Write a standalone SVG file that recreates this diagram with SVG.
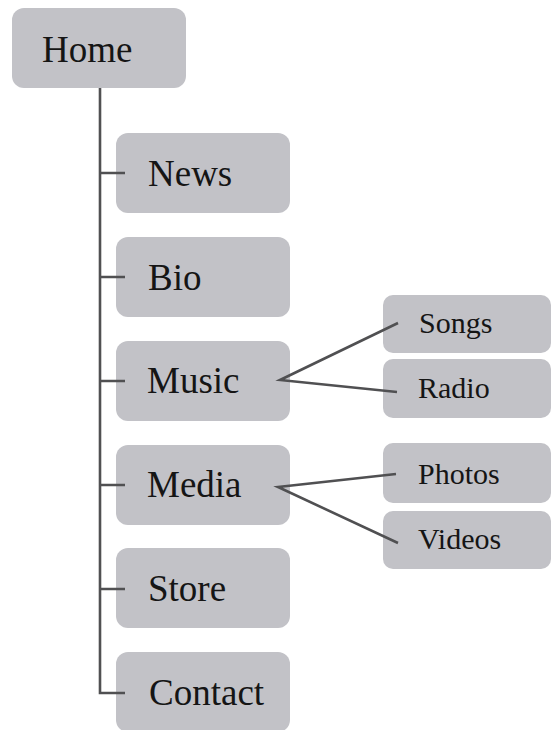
<svg xmlns="http://www.w3.org/2000/svg" width="552" height="730" viewBox="0 0 552 730">
<style>
.box{fill:#c2c2c7}
.t{font-family:'Liberation Serif',serif;fill:#151515}
.m{font-size:37px}
.s{font-size:30px}
.c{fill:none;stroke:#505052;stroke-width:2.6}
</style>
<rect width="552" height="730" fill="#ffffff"/>
<g id="home"><rect class="box" x="12" y="8" width="174" height="80" rx="12"/><text class="t m" x="42" y="62">Home</text></g>
<g id="news"><rect class="box" x="116" y="133" width="174" height="80" rx="12"/><text class="t m" x="148" y="186">News</text></g>
<g id="bio"><rect class="box" x="116" y="237" width="174" height="80" rx="12"/><text class="t m" x="148" y="290">Bio</text></g>
<g id="music"><rect class="box" x="116" y="341" width="174" height="80" rx="12"/><text class="t m" x="147" y="393">Music</text></g>
<g id="media"><rect class="box" x="116" y="445" width="174" height="80" rx="12"/><text class="t m" x="147" y="497">Media</text></g>
<g id="store"><rect class="box" x="116" y="548" width="174" height="80" rx="12"/><text class="t m" x="148" y="601">Store</text></g>
<g id="contact"><rect class="box" x="116" y="652" width="174" height="80" rx="12"/><text class="t m" x="149" y="705">Contact</text></g>
<g id="songs"><rect class="box" x="383" y="295" width="168" height="58" rx="10"/><text class="t s" x="419" y="333">Songs</text></g>
<g id="radio"><rect class="box" x="383" y="359" width="168" height="59" rx="10"/><text class="t s" x="418" y="398">Radio</text></g>
<g id="photos"><rect class="box" x="383" y="443" width="168" height="60" rx="10"/><text class="t s" x="418" y="484">Photos</text></g>
<g id="videos"><rect class="box" x="383" y="511" width="168" height="58" rx="10"/><text class="t s" x="418" y="549">Videos</text></g>
<g id="connectors">
<path class="c" d="M100 88 V693 H125"/>
<path class="c" d="M100 173 H125 M100 277 H125 M100 381 H125 M100 485 H125 M100 589 H125"/>
<path class="c" d="M398 323 L280 380 L397 392"/>
<path class="c" d="M396 474 L278 487 L398 543"/>
</g>
</svg>
